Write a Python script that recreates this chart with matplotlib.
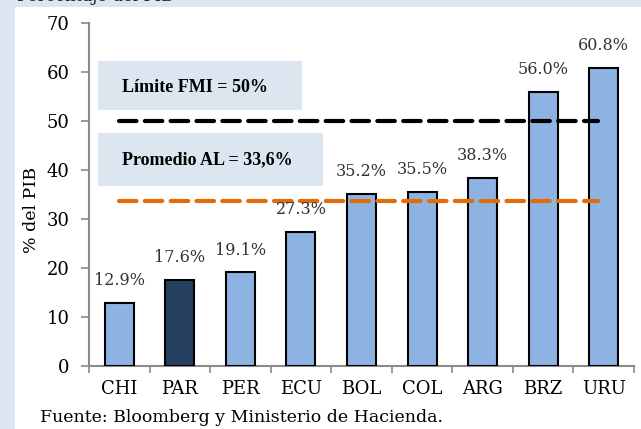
import matplotlib
matplotlib.use("Agg")
import matplotlib.pyplot as plt
from matplotlib.patches import Rectangle

# -----------------------------
# Datos
# -----------------------------
paises = ["CHI", "PAR", "PER", "ECU", "BOL", "COL", "ARG", "BRZ", "URU"]
deuda_pib = [12.9, 17.6, 19.1, 27.3, 35.2, 35.5, 38.3, 56.0, 60.8]
limite_fmi = 50.0
promedio_al = 33.6
texto_limite = "Límite FMI = 50%"
texto_promedio = "Promedio AL = 33,6%"
fuente = "Fuente: Bloomberg y Ministerio de Hacienda."

# -----------------------------
# Estilo
# -----------------------------
AZUL_CLARO = "#8db3e2"
AZUL_OSCURO = "#253f60"
NARANJA = "#e36c0a"
FONDO = "#dce6f1"
GRIS = "#8a8a8a"
plt.rcParams["font.family"] = ["DejaVu Serif"]

fig = plt.figure(figsize=(6.41, 4.29), dpi=100, facecolor=FONDO)
# panel blanco (detras de todo)
panel = Rectangle((15 / 641, 0), 1, 1 - 7 / 429, transform=fig.transFigure,
                  facecolor="white", edgecolor="none", zorder=-10)
fig.add_artist(panel)
fig.text(17 / 641, 1 - 5 / 429, "Porcentaje del PIB", fontsize=12, va="bottom", color="#222222")

ax = fig.add_axes([89 / 641, 1 - 366 / 429, (634 - 89) / 641, (366 - 23) / 429])
ax.set_facecolor("none")
ax.set_zorder(5)

x = list(range(len(paises)))
colores = [AZUL_OSCURO if p == "PAR" else AZUL_CLARO for p in paises]
barras = ax.bar(x, deuda_pib, width=0.48, color=colores, edgecolor="black", linewidth=1.5, zorder=3)

for xi, v in zip(x, deuda_pib):
    ax.annotate(f"{v:.1f}%", (xi, v), xytext=(0, 10), textcoords="offset points",
                ha="center", va="bottom", fontsize=11.5, color="#333333", zorder=5)

# cajas de texto
ax.add_patch(Rectangle((-0.35, 52.2), 3.37, 10.0, facecolor=FONDO, edgecolor="none", zorder=1))
ax.add_patch(Rectangle((-0.35, 36.7), 3.71, 10.8, facecolor=FONDO, edgecolor="none", zorder=1))
ax.text(0.05, 56.8, texto_limite, fontsize=13, fontweight="bold", va="center", zorder=2,
        family="Liberation Serif")
ax.text(0.05, 42.0, texto_promedio, fontsize=13, fontweight="bold", va="center", zorder=2,
        family="Liberation Serif")

# lineas de referencia
ax.plot([0, 7.9], [limite_fmi, limite_fmi], color="black", linewidth=3, linestyle=(0, (4.2, 2)),
        dash_capstyle="round", zorder=4)
ax.plot([0, 7.9], [promedio_al, promedio_al], color=NARANJA, linewidth=3, linestyle=(0, (4.2, 2)),
        dash_capstyle="round", zorder=4)

ax.set_xlim(-0.5, len(paises) - 0.5)
ax.set_ylim(0, 70)
ax.set_yticks(range(0, 71, 10))
ax.set_xticks(x)
ax.set_xticklabels(paises)
ax.set_xticks([i + 0.5 for i in range(-1, len(paises))], minor=True)
ax.tick_params(axis="x", which="major", length=0, labelsize=13, pad=10)
ax.tick_params(axis="x", which="minor", length=5, color=GRIS, width=1.2)
ax.tick_params(axis="y", length=6, color=GRIS, width=1.2, labelsize=13, pad=8)

for lado in ["top", "right"]:
    ax.spines[lado].set_visible(False)
for lado in ["left", "bottom"]:
    ax.spines[lado].set_color(GRIS)
    ax.spines[lado].set_linewidth(1.5)

fig.text(32 / 641, 1 - 210 / 429, "% del PIB", rotation=90, fontsize=12.5, ha="center", va="center")
fig.text(40 / 641, 1 - 417 / 429, fuente, fontsize=12.5, va="center")

fig.savefig("out.png", dpi=100, facecolor=FONDO)
